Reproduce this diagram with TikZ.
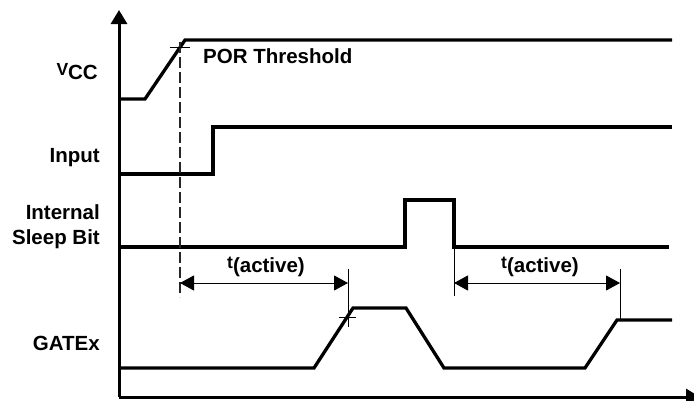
\documentclass[tikz,border=0pt]{standalone}
\usepackage{fontspec}
\setmainfont{Liberation Sans}
\usetikzlibrary{arrows.meta}
\begin{document}
\begin{tikzpicture}[x=1pt,y=-1pt,
  sig/.style={line width=3.3pt,line join=miter},
  axisline/.style={line width=3pt},
  thin/.style={line width=1pt},
  dimline/.style={line width=1pt,{Triangle[length=14pt,width=15pt]}-{Triangle[length=14pt,width=15pt]}},
  lbl/.style={inner sep=0pt,font=\fontsize{20.5}{25}\selectfont\bfseries}]
\newcommand{\smallraised}[1]{\raisebox{3.5pt}{\fontsize{17.5}{20}\selectfont\bfseries #1}}
\useasboundingbox (0,0) rectangle (694,400);
% axes
\coordinate (o) at (119,397);
\coordinate (ytop) at (119,10);
\coordinate (xend) at (700,397);
\draw[axisline,-{Triangle[length=14pt,width=16pt]}] (o) -- (ytop);
\draw[axisline,-{Triangle[length=14pt,width=16pt]}] (o) -- (xend);
% VCC
\draw[sig] (119,99) -- (145,99) -- (185,40) -- (672,40);
% Input
\draw[sig] (119,174) -- (213,174) -- (213,127) -- (672,127);
% Sleep bit
\draw[sig] (119,247) -- (405,247) -- (405,200) -- (454,200) -- (454,247) -- (669,247);
% GATEx
\draw[sig] (119,368) -- (314,368) -- (353,308) -- (406,308) -- (444,368) -- (585,368) -- (617,320) -- (672,320);
% POR threshold marker
\coordinate (porlow) at (180,297);
\draw[line width=1.2pt,black!85,dash pattern=on 11pt off 4pt] (180,42) -- (porlow);
\draw[thin] (170,47.5) -- (190,47.5);
% extension lines
\coordinate (e1t) at (348,269);
\coordinate (e1b) at (348,327);
\draw[thin] (e1t) -- (e1b);
\draw[thin] (339,317) -- (356,317);
\coordinate (e2t) at (454,247);
\coordinate (e2b) at (454,296);
\draw[thin] (e2t) -- (e2b);
\coordinate (e3t) at (620,269);
\coordinate (e3b) at (620,320);
\draw[thin] (e3t) -- (e3b);
% dimension arrows
\coordinate (d1a) at (180,283);
\coordinate (d1b) at (348,283);
\coordinate (d2a) at (454,283);
\coordinate (d2b) at (620,283);
\draw[dimline] (d1a) -- (d1b);
\draw[dimline] (d2a) -- (d2b);
% labels
\node[lbl,anchor=base east] (vcc) at (98,79) {\smallraised{V}CC};
\node[lbl,anchor=base west] (por) at (203,63) {POR Threshold};
\node[lbl,anchor=base east] (inp) at (100,162) {Input};
\node[lbl,anchor=base east] (int) at (100,219) {Internal};
\node[lbl,anchor=base east] (slp) at (100,244) {Sleep Bit};
\node[lbl,anchor=base east] (gate) at (100,350) {GATEx};
\node[lbl,anchor=base west] (ta1) at (227,272) {\smallraised{t}(active)};
\node[lbl,anchor=base west] (ta2) at (501,272) {\smallraised{t}(active)};
\end{tikzpicture}
\end{document}
